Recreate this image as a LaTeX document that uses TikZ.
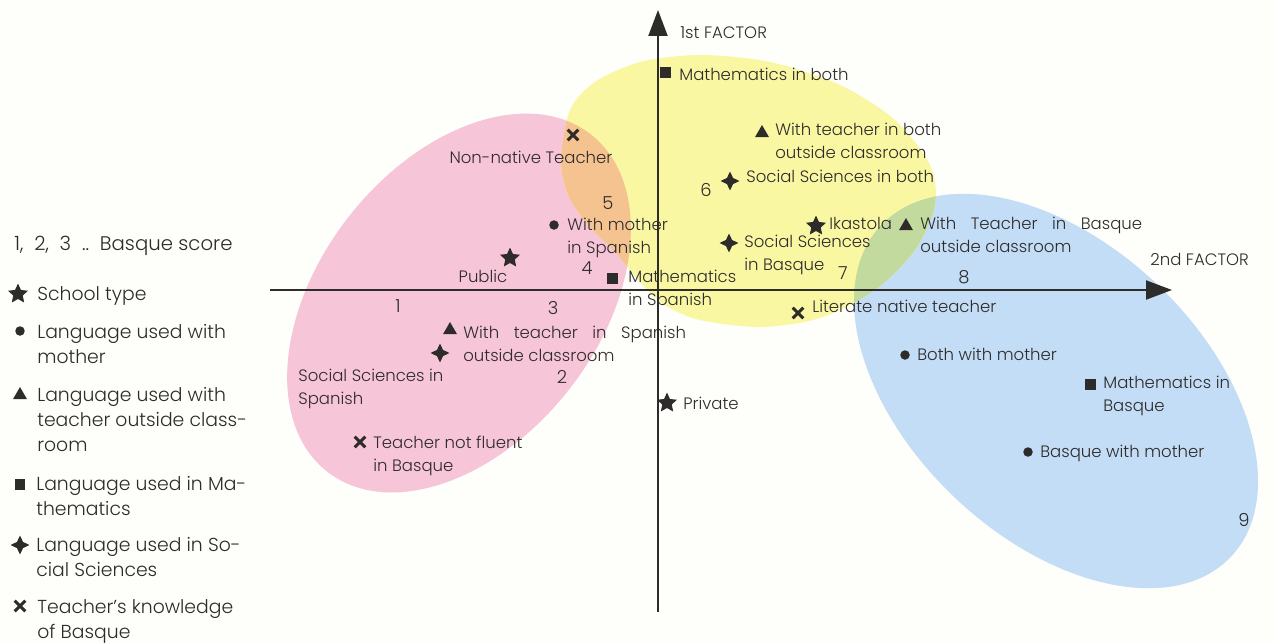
\documentclass[tikz,border=0pt]{standalone}
\usepackage{fontspec}
\setmainfont{Poppins}[UprightFont=* Light, BoldFont=* Medium]
\usepackage{tikz}
\usetikzlibrary{shapes.geometric, shapes.misc, arrows.meta, positioning}
\definecolor{Fac_Paper}{HTML}{FEFEFA}
\definecolor{Fac_Ink}{HTML}{2E2B2B}
\definecolor{Fac_Pink}{HTML}{F7C5D8}
\definecolor{Fac_Yellow}{HTML}{FAF7A2}
\definecolor{Fac_Blue}{HTML}{C2DDF5}
\definecolor{Fac_Orange}{HTML}{F5C390}
\definecolor{Fac_Green}{HTML}{C3DA9E}

\begin{document}
\begin{tikzpicture}[x=0.02cm, y=-0.02cm,
    lbl/.style={font=\fontsize{9.4}{13}\selectfont, text=Fac_Ink, inner sep=0, align=left, anchor=north west},
    key/.style={font=\fontsize{10.7}{14.2}\selectfont, text=Fac_Ink, inner sep=0, align=left, anchor=north west},
    score/.style={font=\fontsize{10.2}{12}\selectfont, text=Fac_Ink, inner sep=0},
    mstar/.style={star, star points=5, star point ratio=2.1, fill=Fac_Ink, inner sep=0, minimum size=0.42cm},
    mdot/.style={circle, fill=Fac_Ink, inner sep=0, minimum size=0.19cm},
    mtri/.style={regular polygon, regular polygon sides=3, fill=Fac_Ink, inner sep=0, minimum size=0.32cm},
    msq/.style={rectangle, fill=Fac_Ink, inner sep=0, minimum size=0.22cm},
    mfour/.style={star, star points=4, star point ratio=2.2, fill=Fac_Ink, inner sep=0, minimum size=0.38cm},
    mcross/.style={cross out, draw=Fac_Ink, line width=1.8pt, inner sep=0, minimum size=0.15cm},
    axis/.style={line width=1.2pt, draw=Fac_Ink, -{Triangle[length=0.52cm, width=0.38cm]}}]

    \fill[Fac_Paper] (0,0) rectangle (1276,643);
    \useasboundingbox (0,0) rectangle (1276,643);

    % Clusters
    \fill[Fac_Pink, rotate around={52:(459,303)}] (459,303) ellipse [x radius=214, y radius=140];
    \fill[Fac_Blue, rotate around={-43.5:(1056,391)}] (1056,391) ellipse [x radius=241, y radius=147];
    \fill[Fac_Yellow] plot[smooth cycle] coordinates {(570,110) (595,82) (640,62) (700,55) (770,62)
        (840,85) (895,120) (930,165) (935,205) (915,250) (875,290) (820,318) (760,327) (700,320)
        (665,305) (640,282) (615,252) (588,225) (568,195) (561,160)};
    \begin{scope}
        \clip plot[smooth cycle] coordinates {(570,110) (595,82) (640,62) (700,55) (770,62)
            (840,85) (895,120) (930,165) (935,205) (915,250) (875,290) (820,318) (760,327) (700,320)
            (665,305) (640,282) (615,252) (588,225) (568,195) (561,160)};
        \fill[Fac_Orange, rotate around={52:(459,303)}] (459,303) ellipse [x radius=214, y radius=140];
        \fill[Fac_Green, rotate around={-43.5:(1056,391)}] (1056,391) ellipse [x radius=241, y radius=147];
    \end{scope}

    % Axes
    \coordinate (vbot) at (658,612);
    \coordinate (vtop) at (658,10);
    \coordinate (hleft) at (270,290);
    \coordinate (hright) at (1172,290);
    \draw[axis] (vbot) -- (vtop);
    \draw[axis] (hleft) -- (hright);
    \node[lbl] (fac1) at (680,26) {1st FACTOR};
    \node[lbl] (fac2) at (1150,253) {2nd FACTOR};

    % Basque scores
    \node[score] (s1) at (398,306) {1};
    \node[score] (s2) at (562,377) {2};
    \node[score] (s3) at (553,308) {3};
    \node[score] (s4) at (587,268) {4};
    \node[score] (s5) at (608,203) {5};
    \node[score] (s6) at (706,190) {6};
    \node[score] (s7) at (843,273) {7};
    \node[score] (s8) at (964,277) {8};
    \node[score] (s9) at (1244,520) {9};

    % Points
    \node[mcross] (nonnative) at (573,135) {};
    \node[lbl, anchor=center] (nonnativeLbl) at (531,157) {Non-native Teacher};
    \node[mdot] (motherSp) at (554,225) {};
    \node[lbl] (motherSpLbl) at (567,218) {With mother\\in Spanish};
    \node[mstar] (public) at (510,258) {};
    \node[lbl, anchor=center] (publicLbl) at (483,276) {Public};
    \node[msq] (mathSp) at (612,278) {};
    \node[lbl] (mathSpLbl) at (628,270) {Mathematics\\in Spanish};
    \node[mtri] (teachSp) at (450,330) {};
    \node[lbl] (teachSpLbl) at (463,326) {With\hspace{0.2cm} teacher\hspace{0.2cm} in\hspace{0.2cm} Spanish\\outside classroom};
    \node[mfour] (socSp) at (440,353) {};
    \node[lbl] (socSpLbl) at (298,369) {Social Sciences in\\Spanish};
    \node[mcross] (notfluent) at (360,442) {};
    \node[lbl] (notfluentLbl) at (373,436) {Teacher not fluent\\in Basque};
    \node[mstar] (private) at (667,403) {};
    \node[lbl] (privateLbl) at (683,397) {Private};
    \node[msq] (mathBoth) at (665,72) {};
    \node[lbl] (mathBothLbl) at (679,68) {Mathematics in both};
    \node[mtri] (teachBoth) at (762,133) {};
    \node[lbl] (teachBothLbl) at (775,123) {With teacher in both\\outside classroom};
    \node[mfour] (socBoth) at (730,181) {};
    \node[lbl] (socBothLbl) at (746,170) {Social Sciences in both};
    \node[mstar] (ikastola) at (816,226) {};
    \node[lbl] (ikastolaLbl) at (829,217) {Ikastola};
    \node[mfour] (socBq) at (729,243) {};
    \node[lbl] (socBqLbl) at (744,235) {Social Sciences\\in Basque};
    \node[mtri] (teachBq) at (906,226) {};
    \node[lbl] (teachBqLbl) at (920,217) {With\hspace{0.2cm} Teacher\hspace{0.2cm} in\hspace{0.2cm} Basque\\outside classroom};
    \node[mcross] (literate) at (798,313) {};
    \node[lbl] (literateLbl) at (812,300) {Literate native teacher};
    \node[mdot] (motherBoth) at (905,355) {};
    \node[lbl] (motherBothLbl) at (917,348) {Both with mother};
    \node[msq] (mathBq) at (1090,384) {};
    \node[lbl] (mathBqLbl) at (1103,376) {Mathematics in\\Basque};
    \node[mdot] (motherBq) at (1028,452) {};
    \node[lbl] (motherBqLbl) at (1040,445) {Basque with mother};

    % Legend
    \node[key, font=\fontsize{11.2}{14.2}\selectfont] (keyScore) at (14,236) {1,\ \ 2,\ \ 3\ \ ..\ \ Basque score};
    \node[mstar] (keyStar) at (18,294) {};
    \node[key] (keyStarLbl) at (37,286) {School type};
    \node[mdot] (keyDot) at (20,331) {};
    \node[key] (keyDotLbl) at (37,324) {Language used with\\mother};
    \node[mtri] (keyTri) at (20,395) {};
    \node[key] (keyTriLbl) at (37,387) {Language used with\\teacher outside class-\\room};
    \node[msq] (keySq) at (20,484) {};
    \node[key] (keySqLbl) at (36,476) {Language used in Ma-\\thematics};
    \node[mfour] (keyFour) at (20,545) {};
    \node[key] (keyFourLbl) at (36,537) {Language used in So-\\cial Sciences};
    \node[mcross] (keyCross) at (20,606) {};
    \node[key] (keyCrossLbl) at (37,599) {Teacher's knowledge\\of Basque};
\end{tikzpicture}
\end{document}
